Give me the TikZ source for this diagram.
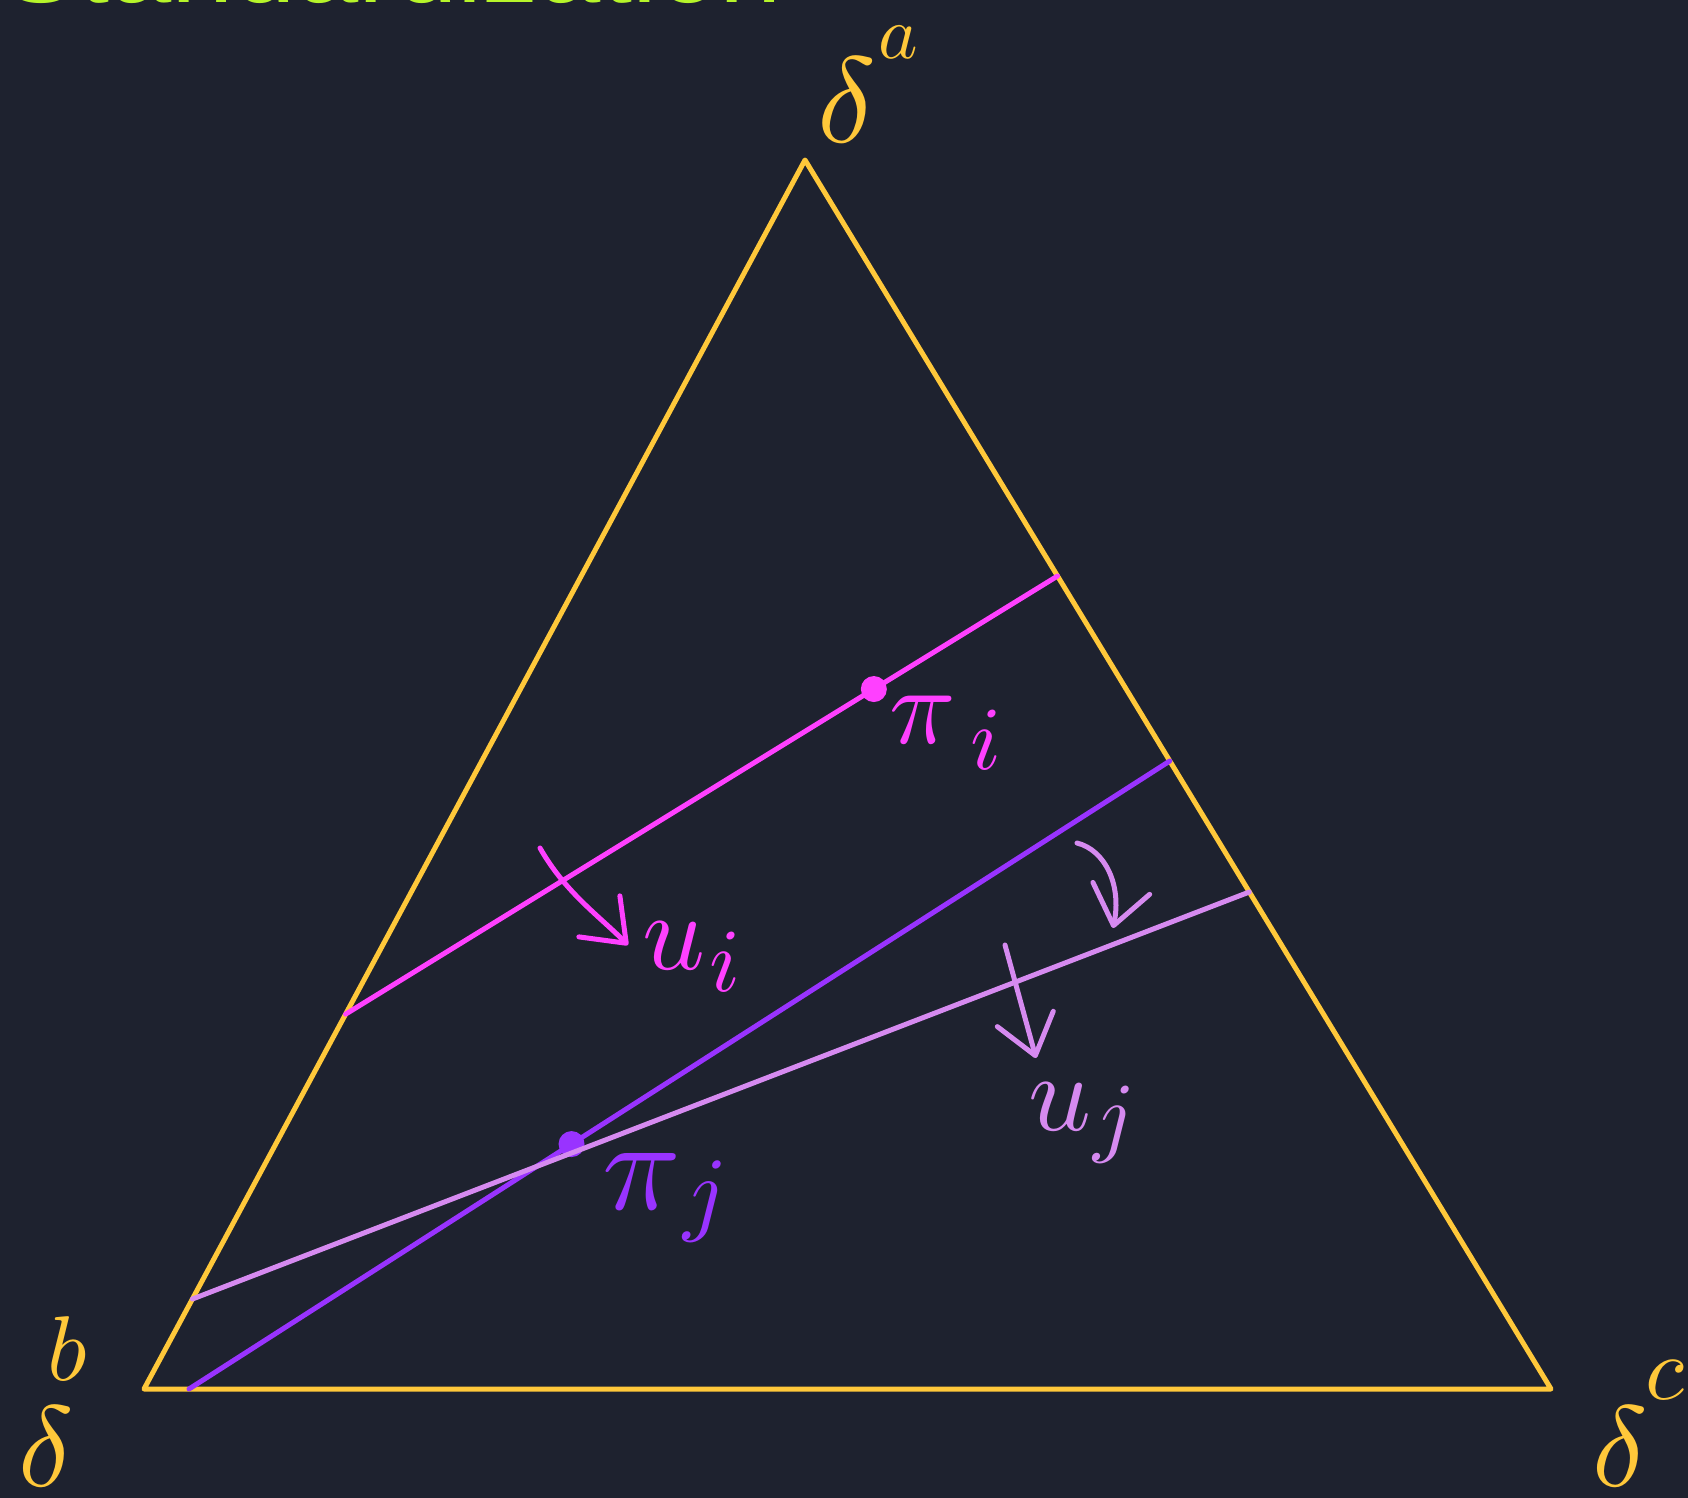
\documentclass[tikz,border=0pt]{standalone}
\usepackage{fontspec}
\usepackage{unicode-math}
\newfontfamily\titlefont{Liberation Sans}
\definecolor{boardbg}{RGB}{30,34,47}
\definecolor{simplexgold}{RGB}{255,200,58}
\definecolor{titlegreen}{RGB}{182,245,42}
\definecolor{pimagenta}{RGB}{255,64,255}
\definecolor{pjviolet}{RGB}{153,51,255}
\definecolor{ujlilac}{RGB}{214,138,240}
\usetikzlibrary{arrows.meta,calc,positioning}

\tikzset{
    simplexside/.style={simplexgold, line width=5pt, line join=round},
    chord/.style={line width=5pt, line cap=round},
    hand/.style={inner sep=0pt, font=\fontsize{#1}{#1}\selectfont},
    dotmark/.style={circle, inner sep=0pt, minimum size=26pt},
    handarrow/.style={line width=5pt, line cap=round, -{Straight Barb[round, length=38pt, width=58pt]}}
}

\begin{document}
\begin{tikzpicture}[x=1pt, y=-1pt]
    \useasboundingbox (0,0) rectangle (1688,1498);
    \fill[boardbg] (0,0) rectangle (1688,1498);

    % heading, cut by the top edge
    \node[anchor=base east, inner sep=0pt, titlegreen, font=\titlefont\fontsize{112}{112}\selectfont] (title) at (782,3) {Standardization};

    % the simplex
    \coordinate (apex) at (805,160);
    \coordinate (bl) at (144,1389);
    \coordinate (br) at (1551,1389);
    \draw[simplexside] (bl) -- (apex) -- (br) -- cycle;

    \node[hand=122, simplexgold] (da) at (847,100) {$\delta$};
    \node[hand=75, simplexgold] (supa) at (898,42) {$a$};
    \node[hand=115, simplexgold] (db) at (46,1446) {$\delta$};
    \node[hand=92, simplexgold] (supb) at (68,1349) {$b$};
    \node[hand=115, simplexgold] (dc) at (1620,1446) {$\delta$};
    \node[hand=90, simplexgold] (supc) at (1666,1380) {$c$};

    % chords through pi_i and pi_j
    \coordinate (pil) at ($(bl)!0.305!(apex)$);
    \coordinate (pir) at ($(apex)!0.3385!(br)$);
    \draw[chord, pimagenta] (pil) -- (pir);
    \node[dotmark, fill=pimagenta] (pidot) at ($(pil)!0.742!(pir)$) {};

    \coordinate (pjl) at ($(bl)!0.032!(br)$);
    \coordinate (pjr) at ($(apex)!0.489!(br)$);
    \draw[chord, pjviolet] (pjl) -- (pjr);
    \node[dotmark, fill=pjviolet] (pjdot) at ($(pjl)!0.39!(pjr)$) {};

    \coordinate (ujl) at ($(bl)!0.0732!(apex)$);
    \coordinate (ujr) at ($(apex)!0.5956!(br)$);
    \draw[chord, ujlilac] (ujl) -- (ujr);

    % labels
    \node[hand=110, pimagenta] (pii) at (922,720) {$\pi$};
    \node[hand=90, pimagenta] (pisub) at (986,740) {$i$};
    \node[hand=110, pimagenta] (ui) at (674,946) {$u$};
    \node[hand=90, pimagenta] (uisub) at (725,962) {$i$};

    \node[hand=130, pjviolet] (pij) at (641,1182) {$\pi$};
    \node[hand=95, pjviolet] (pjsub) at (704,1202) {$j$};

    \node[hand=110, ujlilac] (uj) at (1060,1107) {$u$};
    \node[hand=90, ujlilac] (ujsub) at (1113,1125) {$j$};

    % arrows
    \coordinate (uistart) at (540,848);
    \coordinate (uitip) at (628,945);
    \draw[handarrow, pimagenta] (uistart) .. controls (565,892) and (598,915) .. (uitip);

    \coordinate (rotstart) at (1077,843);
    \coordinate (rottip) at (1113,928);
    \draw[handarrow, ujlilac] (rotstart) .. controls (1105,850) and (1122,885) .. (rottip);

    \coordinate (ujstart) at (1005,945);
    \coordinate (ujtip) at (1036,1058);
    \draw[handarrow, ujlilac] (ujstart) -- (ujtip);
\end{tikzpicture}
\end{document}
